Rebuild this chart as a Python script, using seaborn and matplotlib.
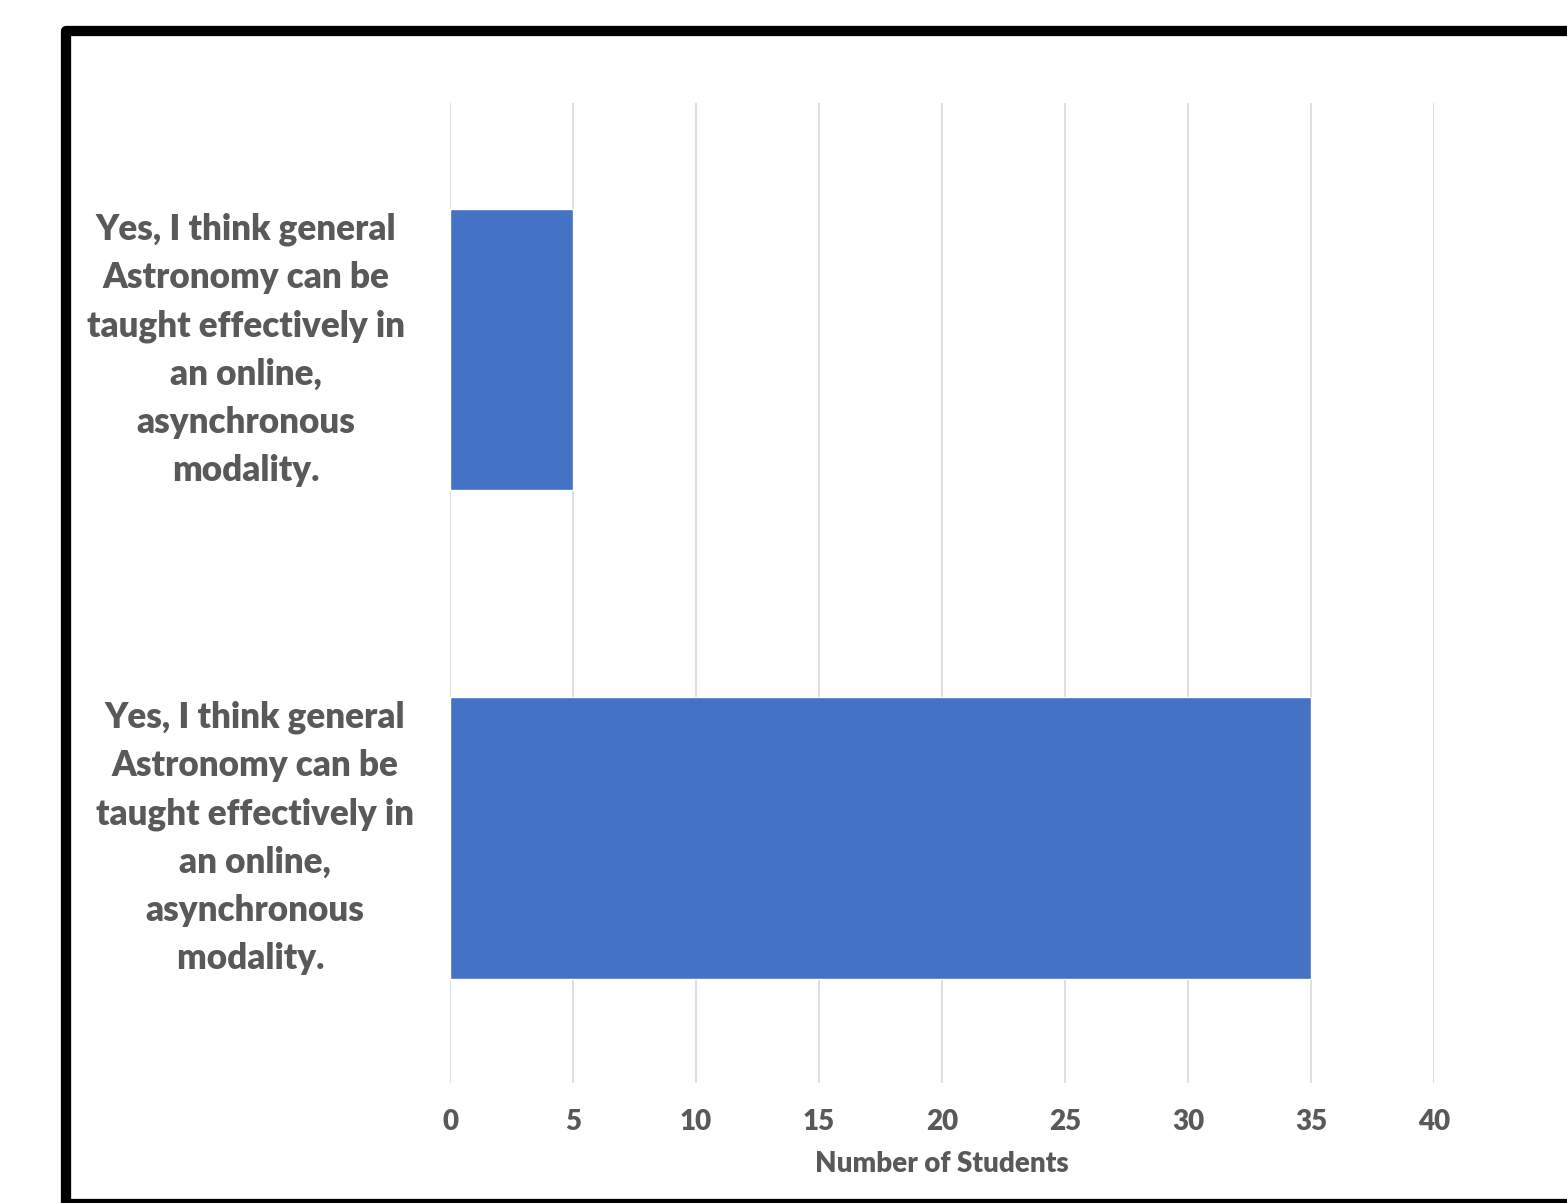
import matplotlib
matplotlib.use("Agg")
import matplotlib.pyplot as plt
import matplotlib.patches as mpatches
import matplotlib.transforms as mtransforms
import seaborn as sns
import pandas as pd

categories = [
    "Yes, I think general\nAstronomy can be\ntaught effectively in\nan online,\nasynchronous\nmodality.",
    "Yes, I think general\nAstronomy can be\ntaught effectively in\nan online,\nasynchronous\nmodality. ",
]
counts = [5, 35]
x_ticks = [0, 5, 10, 15, 20, 25, 30, 35, 40]
x_label = "Number of Students"

sns.set_theme(style="white")
plt.rcParams["font.family"] = ["Lato", "DejaVu Sans"]

TXT = "#595959"
BAR = "#4472C4"

df = pd.DataFrame({"category": categories, "count": counts})

fig = plt.figure(figsize=(15.67, 12.03), dpi=100)
fig.patch.set_facecolor("white")
ax = fig.add_axes([0.2872, 0.0998, 0.6279, 0.8146])

sns.barplot(data=df, x="count", y="category", orient="h", color=BAR,
            width=0.576, saturation=1, ax=ax, zorder=3)

ax.set_xlim(0, 40)
ax.set_ylim(1.502, -0.506)
ax.set_xticks(x_ticks)
ax.set_xticklabels([str(t) for t in x_ticks], fontsize=20, fontweight="heavy", color=TXT)
ax.xaxis.grid(True, color="#d9d9d9", linewidth=1.2, zorder=0)
ax.yaxis.grid(False)
ax.set_axisbelow(True)
for s in ax.spines.values():
    s.set_visible(False)
ax.tick_params(axis="x", length=0, pad=19)
ax.tick_params(axis="y", length=0, pad=147)
ax.set_ylabel("")
ax.set_xlabel(x_label, fontsize=20, fontweight="heavy", color=TXT, labelpad=11)

for i, lab in enumerate(ax.get_yticklabels()):
    lab.set_ha("center")
    lab.set_va("center")
    lab.set_multialignment("center")
    lab.set_fontsize(25.2)
    lab.set_fontweight("heavy")
    lab.set_color(TXT)
    lab.set_linespacing(1.56)
    if i == 1:
        lab.set_transform(lab.get_transform() + mtransforms.ScaledTranslation(9 / 100, 0, fig.dpi_scale_trans))

# outer black frame
W, H = 1567, 1203
rect = mpatches.Rectangle((66 / W, 1 - 1203.5 / H), (1700 - 66) / W, (1203.5 - 31) / H,
                          transform=fig.transFigure, fill=False,
                          edgecolor="black", linewidth=7.4, joinstyle="round")
fig.patches.append(rect)

fig.savefig("out.png", dpi=100, facecolor="white")
